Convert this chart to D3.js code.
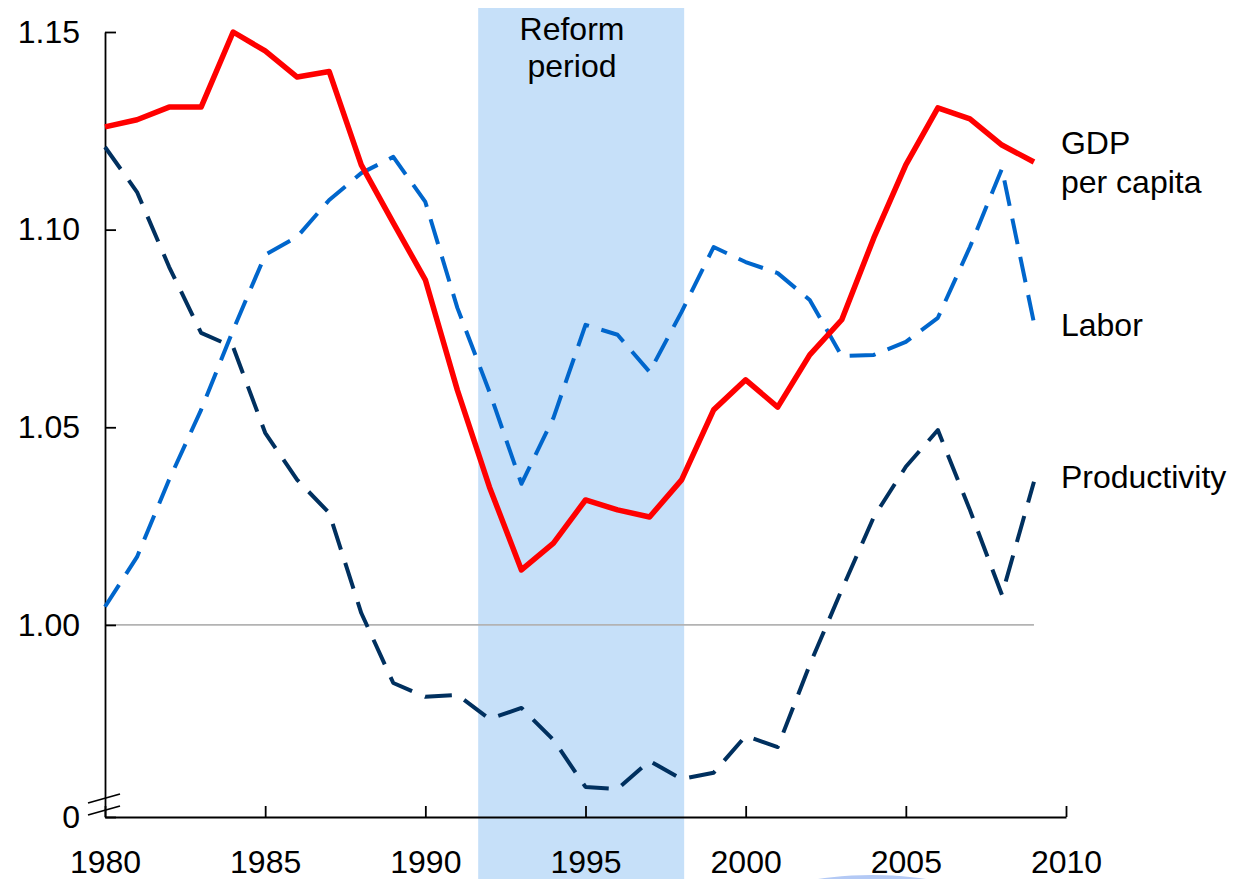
<!DOCTYPE html>
<html>
<head>
<meta charset="utf-8">
<script src="https://cdn.jsdelivr.net/npm/d3@7"></script>
<style>
  body { margin: 0; background: #fff; }
  svg { display: block; font-family: Arial, "Liberation Sans", sans-serif; }
</style>
</head>
<body>
<div id="chart"></div>
<script>
const years = d3.range(1980, 2010);

const gdpPerCapita = [1.126, 1.1278, 1.131, 1.131, 1.150, 1.1452, 1.1386, 1.140, 1.1164, 1.1017,
    1.0873, 1.0594, 1.0349, 1.0139, 1.0207, 1.0316, 1.0291, 1.0273, 1.0367, 1.0544,
    1.062, 1.0551, 1.0683, 1.0772, 1.0979, 1.1164, 1.1308, 1.128, 1.1214, 1.1171];

const labor = [1.0046, 1.0172, 1.0367, 1.0544, 1.0746, 1.0936, 1.0982, 1.1075, 1.1143, 1.1184,
    1.107, 1.0802, 1.059, 1.0357, 1.0524, 1.0759, 1.0734, 1.064, 1.0792, 1.0956,
    1.0918, 1.089, 1.0822, 1.068, 1.0683, 1.0716, 1.0777, 1.0956, 1.1154, 1.0764];

const productivity = [1.1209, 1.1095, 1.0906, 1.0739, 1.0703, 1.0486, 1.0367, 1.0283, 1.003, 0.9853,
    0.9818, 0.9823, 0.9762, 0.979, 0.9709, 0.959, 0.9585, 0.9656, 0.961, 0.9626,
    0.9719, 0.9691, 0.9899, 1.0089, 1.0273, 1.04, 1.0493, 1.0291, 1.0076, 1.0362];

const xTicks = [1980, 1985, 1990, 1995, 2000, 2005, 2010];
const yBreak = 0.9514;   // bottom of the broken axis, labelled "0"
const yTicks = [yBreak, 1.00, 1.05, 1.10, 1.15];
const reform = [1991.65, 1998.08];

const width = 1245;
const height = 879;
const margin = { top: 32, right: 179, bottom: 62, left: 105 };
const fontSize = 32;

const x = d3.scaleLinear()
    .domain([1980, 2010])
    .range([margin.left, width - margin.right]);

const y = d3.scaleLinear()
    .domain([yBreak, 1.15])
    .range([height - margin.bottom, margin.top]);

const svg = d3.select("#chart").append("svg")
    .attr("width", width)
    .attr("height", height);

// reform period band
svg.append("rect")
    .attr("x", x(reform[0]))
    .attr("y", 8)
    .attr("width", x(reform[1]) - x(reform[0]))
    .attr("height", height - 8)
    .attr("fill", "#c6e0f9");

svg.append("text")
    .attr("x", 572)
    .attr("y", 40)
    .attr("text-anchor", "middle")
    .attr("font-size", fontSize)
    .selectAll("tspan")
    .data(["Reform", "period"])
    .join("tspan")
    .attr("x", 572)
    .attr("dy", (d, i) => i ? 37 : 0)
    .text(d => d);

// stray highlight at the bottom of the slide
svg.append("ellipse")
    .attr("cx", 872)
    .attr("cy", 903)
    .attr("rx", 105)
    .attr("ry", 28)
    .attr("fill", "#b3c9f5");

// reference line at 1.00
svg.append("line")
    .attr("x1", x(1980))
    .attr("x2", x(2009))
    .attr("y1", y(1))
    .attr("y2", y(1))
    .attr("stroke", "#b3b3b3")
    .attr("stroke-width", 1.8);

let xAxis = g => g
    .attr("transform", `translate(0,${height - margin.bottom})`)
    .call(d3.axisBottom(x)
        .tickValues(xTicks)
        .tickFormat(d3.format("d"))
        .tickSize(-11)
        .tickSizeOuter(0)
        .tickPadding(33));

let yAxis = g => g
    .attr("transform", `translate(${margin.left},0)`)
    .call(d3.axisLeft(y)
        .tickValues(yTicks)
        .tickFormat(d => d < 1 ? "0" : d3.format(".2f")(d))
        .tickSize(-11)
        .tickSizeOuter(0)
        .tickPadding(25));

[svg.append("g").call(xAxis), svg.append("g").call(yAxis)].forEach(g => {
    g.selectAll("path, line").attr("stroke", "#000").attr("stroke-width", 1.8);
    g.selectAll("text").attr("font-size", fontSize).attr("fill", "#000")
        .attr("font-family", "Arial, 'Liberation Sans', sans-serif");
});

// axis break marks
svg.append("g")
    .attr("stroke", "#000")
    .attr("stroke-width", 1.8)
    .selectAll("line")
    .data([0, 12])
    .join("line")
    .attr("x1", 88).attr("x2", 120)
    .attr("y1", d => 803 + d)
    .attr("y2", d => 794 + d);

const line = d3.line()
    .x((d, i) => x(years[i]))
    .y(d => y(d));

const series = [
    { name: "productivity", values: productivity, color: "#00305f", width: 4, dash: "27,14" },
    { name: "labor", values: labor, color: "#0066cc", width: 4, dash: "26,13" },
    { name: "gdp", values: gdpPerCapita, color: "#ff0000", width: 5.5, dash: null }
];

svg.append("g")
    .attr("fill", "none")
    .selectAll("path")
    .data(series)
    .join("path")
    .attr("d", d => line(d.values))
    .attr("stroke", d => d.color)
    .attr("stroke-width", d => d.width)
    .attr("stroke-dasharray", d => d.dash)
    .attr("stroke-linejoin", "round");

// end labels
const labels = [
    { lines: ["GDP", "per capita"], y: 154 },
    { lines: ["Labor"], y: 336 },
    { lines: ["Productivity"], y: 488 }
];

svg.append("g")
    .attr("font-size", fontSize)
    .selectAll("text")
    .data(labels)
    .join("text")
    .attr("x", x(2009) + 27)
    .attr("y", d => d.y)
    .selectAll("tspan")
    .data(d => d.lines)
    .join("tspan")
    .attr("x", x(2009) + 27)
    .attr("dy", (d, i) => i ? 39 : 0)
    .text(d => d);
</script>
</body>
</html>
